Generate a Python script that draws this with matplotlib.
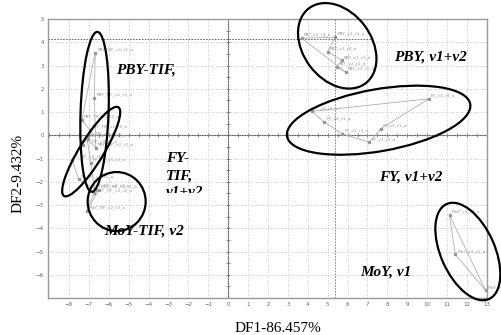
import numpy as np
import matplotlib
matplotlib.use("Agg")
import matplotlib.pyplot as plt
import matplotlib.transforms as mtransforms
from matplotlib.patches import Ellipse, Rectangle

# ---- data (DF1, DF2 scores) ----
pby_tif_labels = ["PBY_TIF_v1_r1_a", "PBY_TIF_v1_r3_a", "PBY_TIF_v2_r2_a",
                  "PBY_TIF_v2_r1_a", "PBY_TIF_v1_r2_a", "PBY_TIF_v2_r3_a"]
pby_tif_x = [-6.68, -6.72, -6.65, -7.05, -6.95, -7.35]
pby_tif_y = [3.55, 1.62, -0.55, -0.15, 0.25, 0.65]

fy_tif_labels = ["FY_TIF_v2_r1_a", "FY_TIF_v1_r1_a", "FY_TIF_v2_r3_a",
                 "FY_TIF_v1_r2_a", "FY_TIF_v1_r3_a", "FY_TIF_v2_r2_a"]
fy_tif_x = [-7.85, -7.5, -6.7, -6.9, -7.1, -7.3]
fy_tif_y = [-1.05, -1.9, -2.3, -1.2, -0.05, -0.4]

moy_tif_labels = ["MoY_TIF_v2_r1_a", "MoY_TIF_v2_r2_a", "MoY_TIF_v2_r3_a"]
moy_tif_x = [-6.5, -6.75, -7.1]
moy_tif_y = [-2.35, -2.5, -3.25]

pby_labels = ["PBY_v2_r3_a", "PBY_v1_r3_a", "PBY_v1_r2_a",
              "PBY_v1_r1_a", "PBY_v2_r2_a", "PBY_v2_r1_a"]
pby_x = [3.7, 5.38, 5.0, 5.72, 5.45, 5.9]
pby_y = [4.18, 4.22, 3.6, 3.22, 2.95, 2.72]

fy_labels = ["FY_v2_r2_a", "FY_v2_r1_a", "FY_v1_r1_a",
             "FY_v1_r2_a", "FY_v2_r3_a", "FY_v1_r3_a"]
fy_x = [4.2, 4.82, 5.74, 7.1, 7.67, 10.08]
fy_y = [1.03, 0.57, 0.06, -0.3, 0.29, 1.57]

moy_labels = ["MoY_v1_r2_a", "MoY_v1_r1_a", "MoY_v1_r3_a"]
moy_x = [11.12, 11.41, 12.93]
moy_y = [-3.43, -5.12, -6.67]

x_ticks = list(range(-8, 14))
y_ticks = list(range(-6, 6))

fig = plt.figure(figsize=(5.02, 3.35), dpi=100)
ax = fig.add_axes([0.0956, 0.1104, 0.8744, 0.8326])
ax.set_xlim(-9.05, 13)
ax.set_ylim(-7, 5)

ax.set_xticks(x_ticks)
ax.set_yticks(y_ticks)
ax.tick_params(length=0, labelsize=4, labelcolor="#666666", pad=3)
ax.grid(True, linestyle=(0, (1, 2)), color="#bbbbbb", linewidth=0.6)
for s in ax.spines.values():
    s.set_color("#999999")
    s.set_linewidth(1.0)

# zero axes with small ticks
ax.axhline(0, color="#666666", lw=0.8, zorder=1)
ax.axvline(0, color="#666666", lw=0.8, zorder=1)
hx = np.arange(-9, 13.01, 0.5)
ax.plot(hx, np.zeros_like(hx), ls="none", marker="|", ms=2.5, mew=0.5, color="#666666")
vy = np.arange(-7, 5.01, 0.5)
ax.plot(np.zeros_like(vy), vy, ls="none", marker="_", ms=2.5, mew=0.5, color="#666666")

# crosshair dashed lines
ax.plot([-9.05, 7.2], [4.13, 4.13], color="#555555", lw=0.6, ls=(0, (2, 1.5)))
ax.axvline(5.38, color="#777777", lw=0.6, ls=(0, (2, 1.5)))

groups = [(pby_tif_x, pby_tif_y, pby_tif_labels), (fy_tif_x, fy_tif_y, fy_tif_labels),
          (moy_tif_x, moy_tif_y, moy_tif_labels), (pby_x, pby_y, pby_labels),
          (fy_x, fy_y, fy_labels), (moy_x, moy_y, moy_labels)]
for gx, gy, gl in groups:
    ax.plot(list(gx) + [gx[0]], list(gy) + [gy[0]], color="#b0b0b0", lw=0.6, zorder=2)
    ax.plot(gx, gy, ls="none", marker="s", ms=1.8, color="#999999", zorder=3)
    for x, y, lab in zip(gx, gy, gl):
        ax.annotate(lab, (x, y), xytext=(1.5, 1), textcoords="offset points",
                    fontsize=3.2, color="#999999", va="bottom", ha="left")

# ellipses: centre in data units, semi axes in pixels
ellipses = [((-6.71, 1.01), 80, 14, 88), ((-6.88, -0.70), 52, 12, 58.5),
            ((-5.6, -2.85), 29, 29.5, 0), ((5.48, 3.85), 47, 34, -53),
            ((7.56, 0.65), 93, 31, 10), ((12.04, -5.0), 52, 27, -66)]
for (cx, cy), a, b, ang in ellipses:
    tr = fig.dpi_scale_trans + mtransforms.ScaledTranslation(cx, cy, ax.transData)
    e = Ellipse((0, 0), 2 * a / 100, 2 * b / 100, angle=ang, transform=tr,
                fill=False, ec="black", lw=1.6, clip_on=False, zorder=5)
    ax.add_patch(e)

lab_font = dict(family=["Liberation Serif", "DejaVu Serif"], fontsize=11,
                fontweight="bold", fontstyle="italic", color="black", zorder=6)
ax.text(-5.63, 2.82, "PBY-TIF,", ha="left", va="center", **lab_font)
# last line of this label is cut off in the original
t = ax.text(-3.13, -0.72, "FY-\nTIF,\nv1+v2", ha="left", va="top",
            linespacing=1.4, clip_on=True, **lab_font)
clip = Rectangle((-4, -2.47), 4, 3, transform=ax.transData)
t.set_clip_path(clip)
ax.text(-6.23, -4.12, "MoY-TIF, v2", ha="left", va="center", **lab_font)
ax.text(8.34, 3.39, "PBY, v1+v2", ha="left", va="center", **lab_font)
ax.text(7.6, -1.79, "FY, v1+v2", ha="left", va="center", **lab_font)
ax.text(6.63, -5.9, "MoY, v1", ha="left", va="center", **lab_font)

fig.text(278 / 502, 1 - 328 / 335, "DF1-86.457%", ha="center", va="center",
         family=["Liberation Serif"], fontsize=11)
fig.text(18 / 502, 1 - 173 / 335, "DF2-9.432%", ha="center", va="center",
         rotation=90, family=["Liberation Serif"], fontsize=11)

fig.savefig("out.png", dpi=100)
